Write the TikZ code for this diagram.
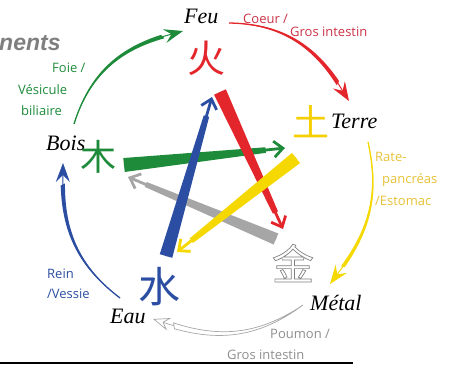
\documentclass[tikz,border=0pt]{standalone}
\usepackage{fontspec}
\setmainfont{Liberation Serif}
\newfontfamily\cjk{Noto Sans CJK SC}
\newfontfamily\hand{Open Sans}
\newfontfamily\titlef{Liberation Sans}
\usetikzlibrary{arrows.meta,calc}
\definecolor{fgreen}{HTML}{1E8B3A}
\definecolor{fred}{HTML}{E3262B}
\definecolor{fyellow}{HTML}{F4D800}
\definecolor{fblue}{HTML}{2B4EA2}
\definecolor{fgrey}{HTML}{A6A6A6}
\definecolor{tred}{HTML}{CC3347}
\definecolor{tyellow}{HTML}{E6C238}
\definecolor{tgrey}{HTML}{8E8E8E}
\definecolor{ttitle}{HTML}{7F7F7F}
\tikzset{
  elem/.style={font=\fontsize{22}{22}\selectfont\itshape, anchor=base west, inner sep=0pt},
  organ/.style={font=\hand\fontsize{13}{13}\selectfont, anchor=base west, inner sep=0pt},
  han/.style={font=\cjk\fontsize{38}{38}\selectfont, inner sep=0pt},
  starhead/.style={line width=2.8pt, -{Straight Barb[length=9pt,width=16pt]}},
  archead/.style={line width=1pt, -{Stealth[length=19pt,width=14pt,inset=7pt]}},
  greyhead/.style={line width=0.7pt, -{Stealth[open,fill=white,length=17pt,width=13pt,inset=6pt]}},
}
\newcommand{\starband}[4]{%
  \coordinate (#2B) at ($(#2S)!0.88!(#2E)$);
  \fill[#1] ($(#2S)!#3!90:(#2E)$) -- ($(#2S)!#3!-90:(#2E)$) --
    ($(#2B)!#4!90:(#2S)$) -- ($(#2B)!#4!-90:(#2S)$) -- cycle;
  \draw[#1, starhead] (#2S) -- (#2E);}
\newcommand{\circband}[4]{%
  \path (#2S) to[bend left=#3] coordinate[pos=0.87] (#2B) (#2E);
  \draw[#1, line width=1.3pt] (#2S) to[bend left=#3] (#2B);
  \fill[#1] (#2S) to[bend left=#3] ($(#2B)!#4!90:(#2S)$) -- ($(#2B)!#4!-90:(#2S)$) to[bend right=#3] (#2S);
  \draw[#1, archead] (#2B) -- (#2E);}
\begin{document}
\begin{tikzpicture}[x=1pt,y=-1pt]
\useasboundingbox (0,0) rectangle (459,367);

% title fragment
\node[font=\titlef\bfseries\itshape\fontsize{23}{23}\selectfont, text=ttitle, anchor=base west, inner sep=0pt] (title) at (-1,50) {nents};
% bottom rule
\coordinate (ruleA) at (0,363);
\coordinate (ruleB) at (353,363);
\draw[line width=1.5pt] (ruleA) -- (ruleB);

% element names
\node[elem] (feu) at (184,23) {Feu};
\node[elem] (bois) at (46,150) {Bois};
\node[elem] (terre) at (331,128) {Terre};
\node[elem] (eau) at (110,323) {Eau};
\node[elem] (metal) at (310,310) {Métal};

% chinese characters
\node[han, text=fred] (huo) at (206,58) {火};
\node[han, text=fgreen, font=\cjk\fontsize{36}{36}\selectfont] (mu) at (98,157) {木};
\node[han, text=fyellow!90!orange, font=\cjk\fontsize{37}{37}\selectfont] (tu) at (311,122) {土};
\node[han, text=fblue, font=\cjk\fontsize{42}{42}\selectfont] (shui) at (160,287) {水};
\node[han, text=gray, font=\cjk\fontsize{42}{42}\selectfont] (jin) at (293,263) {\special{pdf:literal direct 1 Tr 0.7 w}金\special{pdf:literal direct 0 Tr}};

% organ labels
\node[organ, text=fgreen] (o1a) at (52,72) {Foie /};
\node[organ, text=fgreen] (o1b) at (18,94) {Vésicule};
\node[organ, text=fgreen] (o1c) at (21,115) {biliaire};
\node[organ, text=tred] (o2a) at (243,23) {Coeur /};
\node[organ, text=tred] (o2b) at (290,36) {Gros intestin};
\node[organ, text=tyellow] (o3a) at (375,161) {Rate-};
\node[organ, text=tyellow] (o3b) at (382,183) {pancréas};
\node[organ, text=tyellow] (o3c) at (375,205) {/Estomac};
\node[organ, text=fblue] (o4a) at (47,278) {Rein};
\node[organ, text=fblue] (o4b) at (47,298) {/Vessie};
\node[organ, text=tgrey] (o5a) at (270,338) {Poumon /};
\node[organ, text=tgrey] (o5b) at (227,359) {Gros intestin};

% cycle arcs (generating cycle)
\coordinate (gS) at (74,124);  \coordinate (gE) at (183,31);
\coordinate (rS) at (229,23);  \coordinate (rE) at (349,101);
\coordinate (yS) at (368,142); \coordinate (yE) at (330,284);
\coordinate (mS) at (303,305); \coordinate (mE) at (153,319);
\coordinate (bS) at (120,298); \coordinate (bE) at (63,163);
\circband{fgreen}{g}{28}{2.4pt}
\circband{fred}{r}{28}{2.4pt}
\circband{fyellow}{y}{24}{2pt}
\circband{fblue}{b}{26}{2.4pt}
\path (mS) to[bend left=26] coordinate[pos=0.87] (mB) (mE);
\filldraw[draw=fgrey, fill=white, line width=0.7pt] (mS) to[bend left=26] ($(mB)!3pt!90:(mS)$) -- ($(mB)!3pt!-90:(mS)$) to[bend right=26] (mS);
\draw[fgrey, greyhead] (mB) -- (mE);

% star (controlling cycle)
\coordinate (sgS) at (124,165); \coordinate (sgE) at (285,148);
\coordinate (sbS) at (166,256); \coordinate (sbE) at (212,97);
\coordinate (srS) at (220,92);  \coordinate (srE) at (283,229);
\coordinate (syS) at (296,158); \coordinate (syE) at (177,252);
\coordinate (smS) at (276,239); \coordinate (smE) at (128,177);
\starband{fgrey}{sm}{6pt}{2.6pt}
\starband{fgreen}{sg}{7pt}{2.8pt}
\starband{fblue}{sb}{6.5pt}{2.8pt}
\starband{fred}{sr}{6.5pt}{2.8pt}
\starband{fyellow}{sy}{6.5pt}{2.8pt}
\end{tikzpicture}
\end{document}
